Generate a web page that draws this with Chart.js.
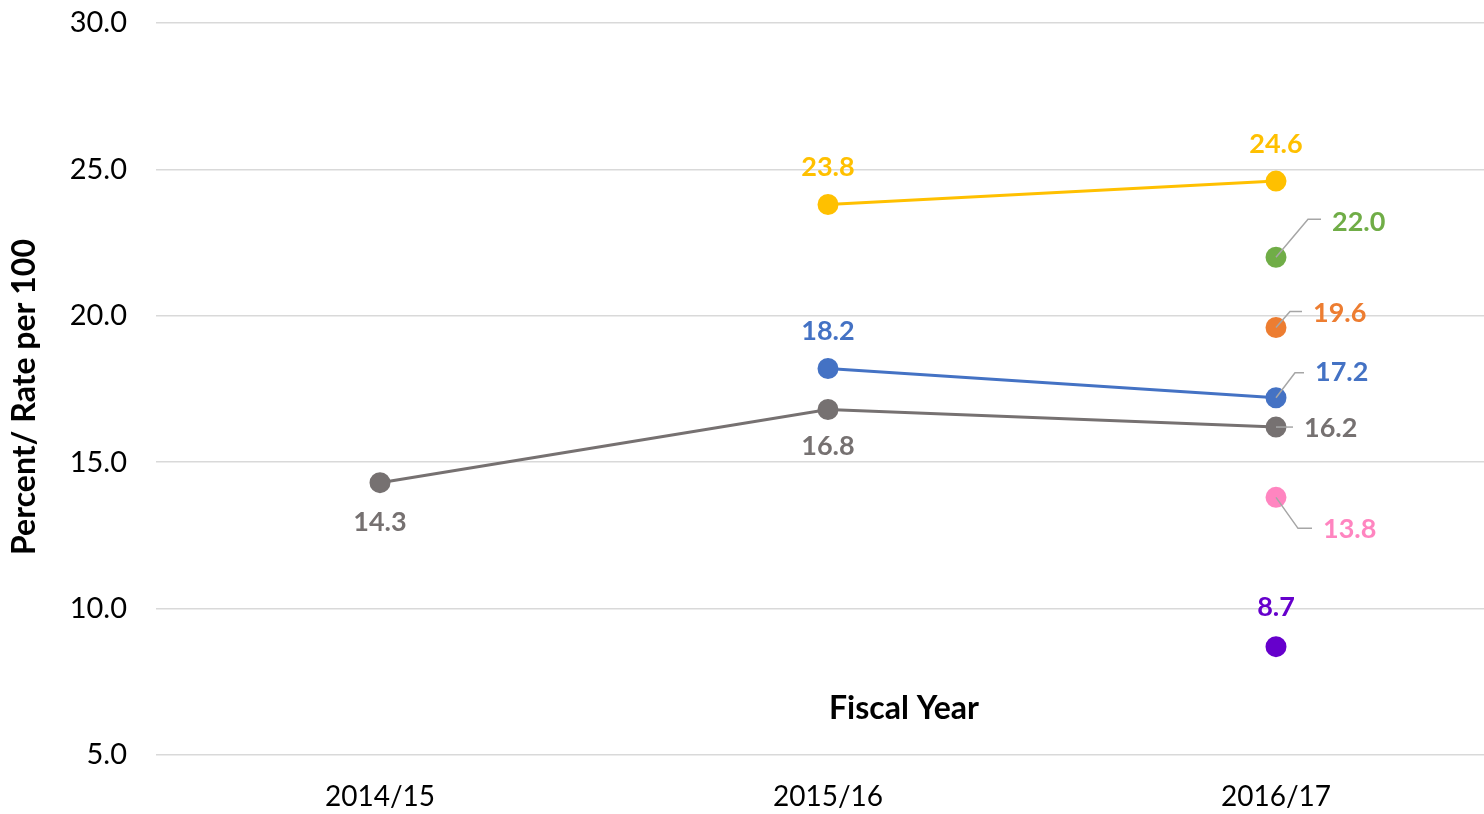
<!DOCTYPE html>
<html>
<head>
<meta charset="utf-8">
<script src="https://cdn.jsdelivr.net/npm/chart.js@4.4.1/dist/chart.umd.min.js"></script>
<style>
  html, body { margin: 0; padding: 0; background: #fff; overflow: hidden; width: 1484px; height: 814px; }
  #wrap { width: 1512px; height: 814px; }
</style>
</head>
<body>
<div id="wrap"><canvas id="c" width="1512" height="814"></canvas></div>
<script>
const categories = ['2014/15', '2015/16', '2016/17'];
const yellowSeries = [null, 23.8, 24.6];
const blueSeries   = [null, 18.2, 17.2];
const graySeries   = [14.3, 16.8, 16.2];
const greenSeries  = [null, null, 22.0];
const orangeSeries = [null, null, 19.6];
const pinkSeries   = [null, null, 13.8];
const purpleSeries = [null, null, 8.7];
const yTickMin = 5, yTickMax = 30, yTickStep = 5;

const FONT = 'Lato, "Open Sans", sans-serif';

// label placement styles (offsets relative to the point)
const above = { dx: 0, dy: -37, align: 'center' };
const below = { dx: 0, dy: 40, align: 'center' };

function ds(label, data, color, labels, showLine) {
  return {
    label, data,
    borderColor: color, backgroundColor: color,
    pointBackgroundColor: color, pointBorderColor: color,
    pointRadius: 9, pointHoverRadius: 9, borderWidth: 3,
    showLine: showLine, spanGaps: false, tension: 0,
    labelCfg: labels
  };
}

const datasets = [
  ds('Yellow', yellowSeries, '#FFC000', [null, above, above], true),
  ds('Blue', blueSeries, '#4472C4', [null, above,
      { dx: 39, dy: -25, align: 'left', leader: [[19, -25], [28, -25]] }], true),
  ds('Gray', graySeries, '#767171', [below, { dx: 0, dy: 37, align: 'center' },
      { dx: 28, dy: 1, align: 'left', leader: [[17, 0]] }], true),
  ds('Green', greenSeries, '#70AD47', [null, null,
      { dx: 56, dy: -35, align: 'left', leader: [[32, -38], [45, -38]] }], false),
  ds('Orange', orangeSeries, '#ED7D31', [null, null,
      { dx: 37, dy: -14, align: 'left', leader: [[14, -16], [26, -16]] }], false),
  ds('Pink', pinkSeries, '#FF85C0', [null, null,
      { dx: 47, dy: 32, align: 'left', leader: [[22, 31], [36, 31]] }], false),
  ds('Purple', purpleSeries, '#6600CC', [null, null, { dx: 0, dy: -39, align: 'center' }], false)
];

const labelPlugin = {
  id: 'customLabels',
  afterDatasetsDraw(chart) {
    const ctx = chart.ctx;
    ctx.save();
    chart.data.datasets.forEach((d, i) => {
      const meta = chart.getDatasetMeta(i);
      meta.data.forEach((pt, j) => {
        const v = d.data[j];
        const cfg = d.labelCfg && d.labelCfg[j];
        if (v == null || !cfg) return;
        const x = pt.x, y = pt.y;
        if (cfg.leader) {
          ctx.beginPath();
          ctx.strokeStyle = '#A6A6A6';
          ctx.lineWidth = 1.5;
          ctx.moveTo(x, y);
          cfg.leader.forEach(p => ctx.lineTo(x + p[0], y + p[1]));
          ctx.stroke();
        }
        ctx.font = 'bold 27px ' + FONT;
        ctx.fillStyle = d.borderColor;
        ctx.textAlign = cfg.align;
        ctx.textBaseline = 'middle';
        ctx.fillText(v.toFixed(1), x + cfg.dx, y + cfg.dy);
      });
    });
    // axis titles
    ctx.fillStyle = '#000';
    ctx.font = 'bold 32px ' + FONT;
    ctx.textAlign = 'center';
    ctx.textBaseline = 'middle';
    ctx.fillText('Fiscal Year', 904, 709);
    ctx.translate(25, 397);
    ctx.rotate(-Math.PI / 2);
    ctx.fillText('Percent/ Rate per 100', 0, 0);
    ctx.restore();
  }
};

new Chart(document.getElementById('c'), {
  type: 'line',
  data: { labels: categories, datasets },
  options: {
    responsive: false,
    animation: false,
    layout: { padding: { top: 23, left: 0, right: 0, bottom: 0 } },
    plugins: { legend: { display: false }, tooltip: { enabled: false } },
    scales: {
      x: {
        offset: true,
        grid: { display: false, drawTicks: false },
        border: { display: false },
        ticks: { color: '#000', font: { family: FONT, size: 28 }, padding: 25, maxRotation: 0 },
        afterFit(scale) { scale.height = 59; scale.paddingLeft = 0; scale.paddingRight = 0; }
      },
      y: {
        min: yTickMin, max: yTickMax,
        grid: { color: '#D9D9D9', lineWidth: 1.5, drawTicks: false },
        border: { display: false },
        ticks: {
          stepSize: yTickStep, color: '#000', padding: 29,
          font: { family: FONT, size: 29 },
          callback: v => Number(v).toFixed(1)
        },
        afterFit(scale) { scale.width = 156; scale.paddingTop = 0; scale.paddingBottom = 0; }
      }
    }
  },
  plugins: [labelPlugin]
});
</script>
</body>
</html>
